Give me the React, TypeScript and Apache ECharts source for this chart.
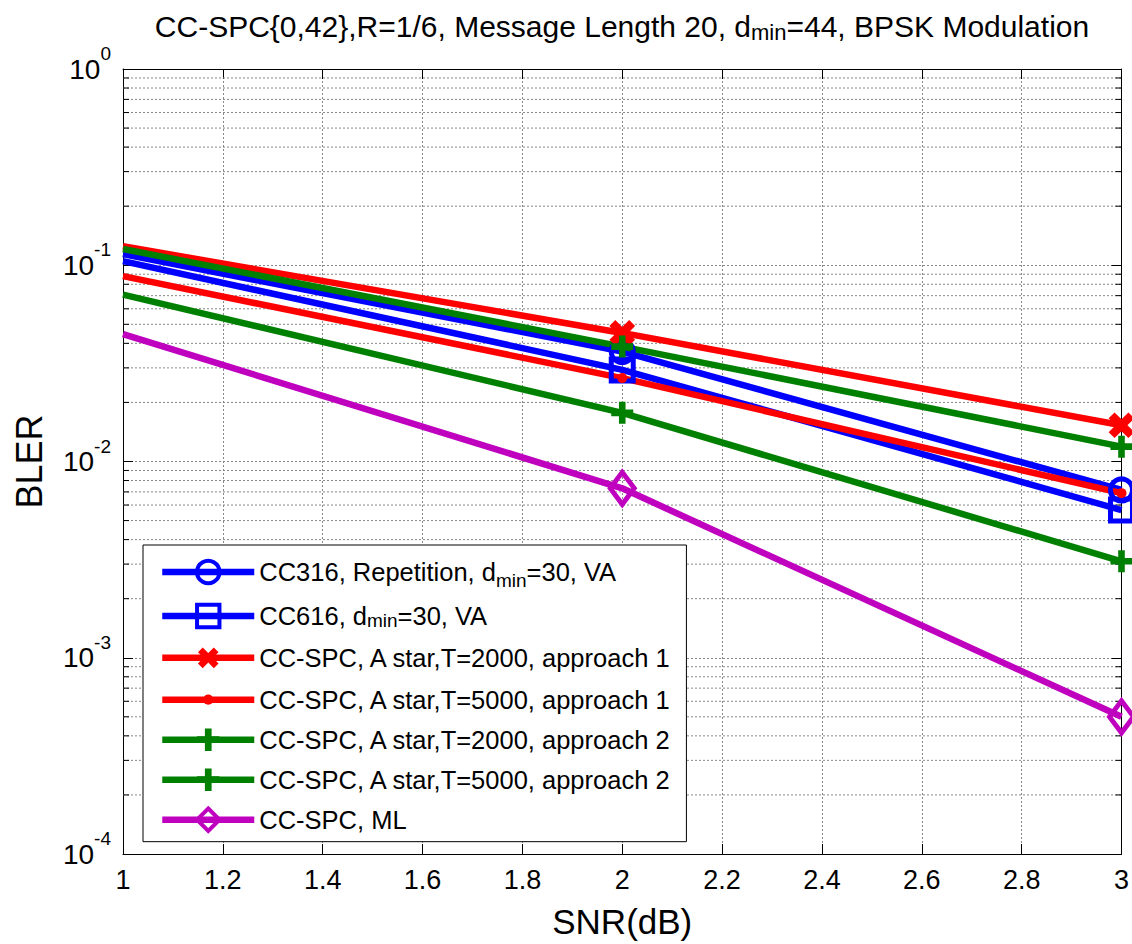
import React, { useEffect, useRef } from "react";
import * as echarts from "echarts";

// SNR points (dB)
const snr = [1, 2, 3];

// BLER per scheme
const cc316 = [0.114, 0.0363, 0.00716];
const cc616 = [0.105, 0.0293, 0.00566];
const spcA1T2000 = [0.125, 0.0452, 0.0153];
const spcA1T5000 = [0.088, 0.0266, 0.0069];
const spcA2T2000 = [0.121, 0.0385, 0.0119];
const spcA2T5000 = [0.0708, 0.0177, 0.0031];
const spcML = [0.0446, 0.0073, 0.0005];

const seriesNames = [
  "CC316, Repetition, dmin=30, VA",
  "CC616, dmin=30, VA",
  "CC-SPC, A star,T=2000, approach 1",
  "CC-SPC, A star,T=5000, approach 1",
  "CC-SPC, A star,T=2000, approach 2",
  "CC-SPC, A star,T=5000, approach 2",
  "CC-SPC, ML",
];
const legendLabels = [
  "CC316, Repetition, d{sub|min}=30, VA",
  "CC616, d{sub|min}=30, VA",
  "CC-SPC, A star,T=2000, approach 1",
  "CC-SPC, A star,T=5000, approach 1",
  "CC-SPC, A star,T=2000, approach 2",
  "CC-SPC, A star,T=5000, approach 2",
  "CC-SPC, ML",
];

// log-axis minor grid: mantissas 2..9 within each decade
const decades = [1e-4, 1e-3, 1e-2, 1e-1];
const mantissas = [2, 3, 4, 5, 6, 7, 8, 9];

const BLUE = "#0000FF";
const RED = "#FF0000";
const GREEN = "#008000";
const MAGENTA = "#BF00BF";
const FONT = "Arial, 'Liberation Sans', sans-serif";

// marker shapes
const PLUS = "path://M7,0H13V7H20V13H13V20H7V13H0V7H7Z";
const CROSS = "path://M7,0H13V7H20V13H13V20H7V13H0V7H7Z";
// small dot centred in a wider invisible box
const DOT = "path://M0,0M22,22M6,11A5,5,0,1,0,16,11A5,5,0,1,0,6,11Z";

const subStyle = { fontFamily: FONT, fontSize: 19, lineHeight: 4, verticalAlign: "bottom", color: "#000" };

export default function App() {
  const ref = useRef<HTMLDivElement>(null);

  useEffect(() => {
    if (!ref.current) return;
    const chart = echarts.init(ref.current, undefined, { renderer: "svg" });

    const minorData: number[][] = [];
    decades.forEach((d) => mantissas.forEach((m) => minorData.push([1, m * d])));

    // the curves enter at the left edge without a marker
    const pts = (ys: number[]) =>
      snr.map((x, i) => (i === 0 ? { value: [x, ys[i]], symbol: "none" } : { value: [x, ys[i]] }));

    const lineSeries = (
      name: string,
      ys: number[],
      color: string,
      symbol: string,
      symbolSize: number | number[],
      hollow: boolean,
      rotate = 0
    ) => ({
      type: "line",
      name,
      data: pts(ys),
      xAxisIndex: 0,
      yAxisIndex: 0,
      symbol,
      symbolSize,
      symbolRotate: rotate,
      showAllSymbol: true,
      lineStyle: { color, width: 6.5 },
      itemStyle: hollow
        ? { color: "rgba(255,255,255,0)", borderColor: color, borderWidth: 5 }
        : { color, borderColor: color, borderWidth: 0 },
      emphasis: { disabled: true },
      z: 3,
    });

    const hollowFlags = [true, true, false, false, false, false, true];

    const option: any = {
      animation: false,
      backgroundColor: "#fff",
      title: {
        text: "CC-SPC{0,42},R=1/6, Message Length 20, d{sub|min}=44, BPSK Modulation",
        left: 617,
        top: 4,
        textAlign: "center",
        textStyle: {
          fontFamily: FONT,
          fontSize: 30,
          fontWeight: "normal",
          color: "#000",
          lineHeight: 34,
          rich: { sub: { ...subStyle, fontSize: 22 } },
        },
      },
      grid: { left: 123, right: 10, top: 69, bottom: 90, containLabel: false },
      legend: {
        orient: "vertical",
        left: 143,
        top: 545,
        data: seriesNames.map((name, i) => ({
          name,
          itemStyle: { borderWidth: hollowFlags[i] ? 4 : 0 },
          textStyle:
            i === 0
              ? { fontFamily: FONT, fontSize: 25.5, color: "#000", lineHeight: 36, rich: { sub: subStyle } }
              : undefined,
        })),
        itemWidth: 92,
        itemHeight: 28,
        itemGap: 12,
        padding: [9, 14, 8, 16],
        backgroundColor: "#fff",
        borderColor: "#000",
        borderWidth: 1,
        selectedMode: false,
        lineStyle: { width: 6.5 },
        formatter: (name: string) => legendLabels[seriesNames.indexOf(name)],
        textStyle: {
          fontFamily: FONT,
          fontSize: 25.5,
          color: "#000",
          lineHeight: 28,
          rich: { sub: subStyle },
        },
      },
      xAxis: [
        {
          type: "value",
          min: 1,
          max: 3,
          interval: 0.2,
          name: "SNR(dB)",
          nameLocation: "middle",
          nameGap: 50,
          nameTextStyle: { fontFamily: FONT, fontSize: 35, color: "#000" },
          axisLine: { lineStyle: { color: "#000", width: 1 } },
          axisTick: { inside: true, length: 10, lineStyle: { color: "#000" } },
          axisLabel: {
            margin: 12,
            fontFamily: FONT,
            fontSize: 27,
            color: "#000",
            formatter: (v: number) => String(Math.round(v * 10) / 10),
          },
          splitLine: { show: true, lineStyle: { color: "#888", type: [2, 2], width: 1 } },
        },
        {
          type: "value",
          position: "top",
          min: 1,
          max: 3,
          interval: 0.2,
          axisLine: { show: true, onZero: false, lineStyle: { color: "#000", width: 1 } },
          axisTick: { inside: true, length: 10, lineStyle: { color: "#000" } },
          axisLabel: { show: false },
          splitLine: { show: false },
        },
      ],
      yAxis: [
        {
          type: "log",
          logBase: 10,
          min: 1e-4,
          max: 1,
          name: "BLER",
          nameLocation: "middle",
          nameRotate: 90,
          nameGap: 76,
          nameTextStyle: { fontFamily: FONT, fontSize: 36, color: "#000" },
          axisLine: { show: true, lineStyle: { color: "#000", width: 1 } },
          axisTick: { inside: true, length: 10, lineStyle: { color: "#000" } },
          axisLabel: {
            margin: 12,
            formatter: (v: number) => `{base|10}{sup|${Math.round(Math.log10(v))}}`,
            rich: {
              base: { fontFamily: FONT, fontSize: 28, color: "#000", lineHeight: 50, verticalAlign: "middle" },
              sup: { fontFamily: FONT, fontSize: 19, color: "#000", lineHeight: 15, verticalAlign: "top" },
            },
          },
          splitLine: { show: true, lineStyle: { color: "#888", type: [2, 2], width: 1 } },
        },
        {
          type: "log",
          logBase: 10,
          min: 1e-4,
          max: 1,
          position: "right",
          axisLine: { show: true, onZero: false, lineStyle: { color: "#000", width: 1 } },
          axisTick: { inside: true, length: 10, lineStyle: { color: "#000" } },
          axisLabel: { show: false },
          splitLine: { show: false },
        },
      ],
      series: [
        {
          type: "custom",
          name: "minor grid",
          coordinateSystem: "cartesian2d",
          xAxisIndex: 0,
          yAxisIndex: 0,
          silent: true,
          z: 1,
          data: minorData,
          renderItem: (params: any, api: any) => {
            const y = api.coord([1, api.value(1)])[1];
            const cs = params.coordSys;
            return {
              type: "group",
              children: [
                {
                  type: "line",
                  shape: { x1: cs.x, y1: y, x2: cs.x + cs.width, y2: y },
                  style: { stroke: "#888", lineWidth: 1, lineDash: [2, 2] },
                },
                {
                  type: "line",
                  shape: { x1: cs.x, y1: y, x2: cs.x + 6, y2: y },
                  style: { stroke: "#000", lineWidth: 1 },
                },
                {
                  type: "line",
                  shape: { x1: cs.x + cs.width - 6, y1: y, x2: cs.x + cs.width, y2: y },
                  style: { stroke: "#000", lineWidth: 1 },
                },
              ],
            };
          },
        },
        lineSeries(seriesNames[0], cc316, BLUE, "circle", 22, true),
        lineSeries(seriesNames[1], cc616, BLUE, "rect", 22, true),
        lineSeries(seriesNames[2], spcA1T2000, RED, CROSS, 28, false, 45),
        lineSeries(seriesNames[3], spcA1T5000, RED, DOT, 22, false),
        lineSeries(seriesNames[4], spcA2T2000, GREEN, PLUS, 22, false),
        lineSeries(seriesNames[5], spcA2T5000, GREEN, PLUS, 22, false),
        lineSeries(seriesNames[6], spcML, MAGENTA, "diamond", [24, 32], true),
      ],
    };

    chart.setOption(option);
    return () => chart.dispose();
  }, []);

  return (
    <div
      ref={ref}
      style={{ position: "absolute", left: 0, top: 0, width: 1132, height: 944 }}
    />
  );
}
